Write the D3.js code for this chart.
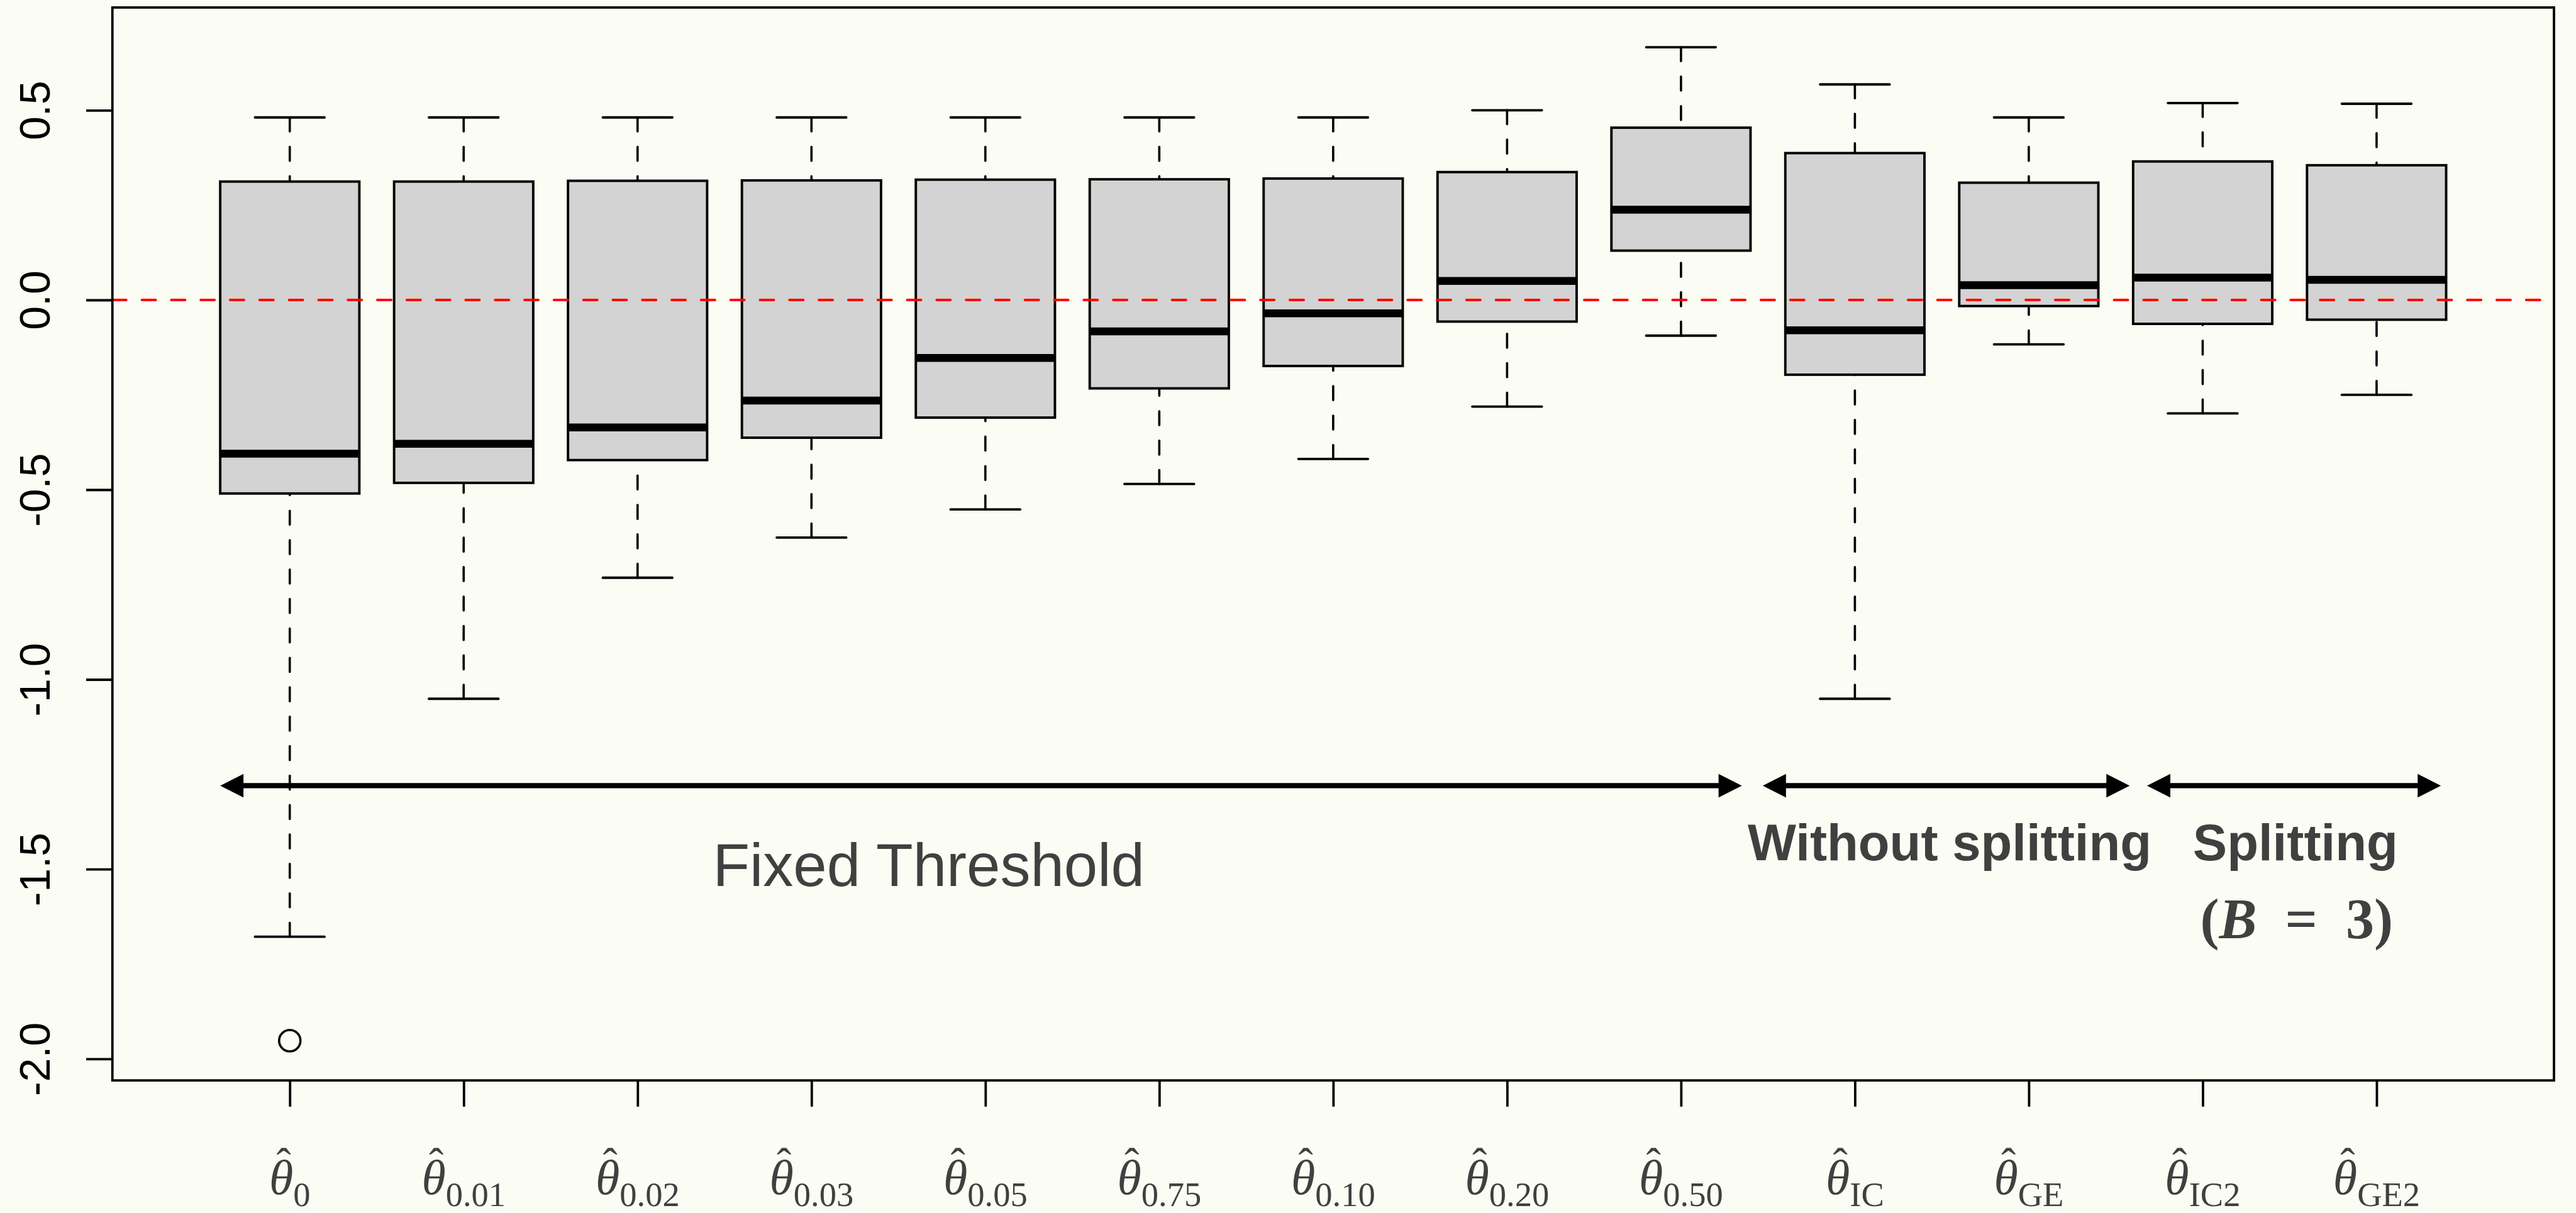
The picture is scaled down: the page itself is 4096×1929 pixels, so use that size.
<!DOCTYPE html>
<html>
<head>
<meta charset="utf-8">
<script src="https://cdn.jsdelivr.net/npm/d3@7"></script>
<style>
  html, body { margin: 0; padding: 0; background: #FBFCF3; }
  svg { display: block; }
</style>
</head>
<body>
<svg id="chart" width="4096" height="1929"></svg>
<script>
// ---------------- data ----------------
const categories   = ["0", "0.01", "0.02", "0.03", "0.05", "0.75", "0.10", "0.20", "0.50", "IC", "GE", "IC2", "GE2"];
const upperWhisker = [0.481, 0.481, 0.481, 0.481, 0.481, 0.481, 0.481, 0.500, 0.666, 0.568, 0.481, 0.519, 0.517];
const upperQuart   = [0.312, 0.312, 0.314, 0.315, 0.317, 0.318, 0.320, 0.337, 0.454, 0.387, 0.309, 0.365, 0.355];
const medians      = [-0.405, -0.379, -0.336, -0.265, -0.153, -0.083, -0.035, 0.050, 0.238, -0.080, 0.039, 0.059, 0.053];
const lowerQuart   = [-0.510, -0.482, -0.422, -0.363, -0.310, -0.233, -0.174, -0.057, 0.130, -0.197, -0.016, -0.063, -0.052];
const lowerWhisker = [-1.678, -1.051, -0.732, -0.626, -0.552, -0.485, -0.419, -0.281, -0.094, -1.051, -0.117, -0.299, -0.250];
const outlierGroup = [1];
const outlierValue = [-1.952];
const yTickValues  = [-2.0, -1.5, -1.0, -0.5, 0.0, 0.5];
const yTickLabels  = ["-2.0", "-1.5", "-1.0", "-0.5", "0.0", "0.5"];
const refLineValue = 0;
const arrowFrom    = [0.6, 9.47, 11.68];
const arrowTo      = [9.35, 11.58, 13.37];
const arrowLevel   = -1.28;
const groupLabelText = ["Fixed Threshold", "Without splitting", "Splitting"];
const groupLabelX    = [4.674, 10.545, 12.533];
const groupLabelY    = [-1.545, -1.477, -1.477];
const noteX = 12.54, noteY = -1.682;

// ---------------- layout ----------------
const S = 0.851;
const plotLeft = 210 * S, plotRight = 4772 * S, plotTop = 14 * S, plotBottom = 2019 * S;
const svg = d3.select("#chart");
svg.append("rect").attr("width", 4096).attr("height", 1929).attr("fill", "#FBFCF3");

const n = categories.length;
const xr = [0.5, n + 0.5];
const xpad = (xr[1] - xr[0]) * 0.04;
const x = d3.scaleLinear().domain([xr[0] - xpad, xr[1] + xpad]).range([plotLeft, plotRight]);

const allV = upperWhisker.concat(lowerWhisker, outlierValue);
const ymin = d3.min(allV), ymax = d3.max(allV);
const ypad = (ymax - ymin) * 0.04;
const y = d3.scaleLinear().domain([ymin - ypad, ymax + ypad]).range([plotBottom, plotTop]);

const g = svg.append("g");
const idx = d3.range(n);
const dash = `${26 * S} ${29 * S}`;

// whiskers (drawn from staple towards box)
g.selectAll(".wu").data(idx).join("line")
  .attr("x1", i => x(i + 1)).attr("x2", i => x(i + 1))
  .attr("y1", i => y(upperWhisker[i])).attr("y2", i => y(upperQuart[i]))
  .attr("stroke", "#000").attr("stroke-width", 3.6).attr("stroke-dasharray", dash).attr("stroke-linecap", "round");
g.selectAll(".wl").data(idx).join("line")
  .attr("x1", i => x(i + 1)).attr("x2", i => x(i + 1))
  .attr("y1", i => y(lowerWhisker[i])).attr("y2", i => y(lowerQuart[i]))
  .attr("stroke", "#000").attr("stroke-width", 3.6).attr("stroke-dasharray", dash).attr("stroke-linecap", "round");
// staples
[upperWhisker, lowerWhisker].forEach(arr => {
  g.selectAll(null).data(idx).join("line")
    .attr("x1", i => x(i + 1 - 0.2)).attr("x2", i => x(i + 1 + 0.2))
    .attr("y1", i => y(arr[i])).attr("y2", i => y(arr[i]))
    .attr("stroke", "#000").attr("stroke-width", 3.8).attr("stroke-linecap", "round");
});
// boxes
g.selectAll(".box").data(idx).join("rect")
  .attr("x", i => x(i + 1 - 0.4)).attr("width", i => x(i + 1 + 0.4) - x(i + 1 - 0.4))
  .attr("y", i => y(upperQuart[i])).attr("height", i => y(lowerQuart[i]) - y(upperQuart[i]))
  .attr("fill", "#D3D3D3").attr("stroke", "#000").attr("stroke-width", 3.9);
// medians
g.selectAll(".med").data(idx).join("line")
  .attr("x1", i => x(i + 1 - 0.4)).attr("x2", i => x(i + 1 + 0.4))
  .attr("y1", i => y(medians[i])).attr("y2", i => y(medians[i]))
  .attr("stroke", "#000").attr("stroke-width", 12.5);
// outliers
g.selectAll(".out").data(outlierValue).join("circle")
  .attr("cx", (d, k) => x(outlierGroup[k])).attr("cy", d => y(d)).attr("r", 17)
  .attr("fill", "none").attr("stroke", "#000").attr("stroke-width", 3.6);

// reference line
g.append("line")
  .attr("x1", plotLeft).attr("x2", plotRight)
  .attr("y1", y(refLineValue)).attr("y2", y(refLineValue))
  .attr("stroke", "#FF0000").attr("stroke-width", 3.8).attr("stroke-dasharray", dash).attr("stroke-linecap", "round");

// arrows
const headL = 37, headW = 18.7, arrowW = 8.3;
arrowFrom.forEach((a, k) => {
  const x0 = x(a), x1 = x(arrowTo[k]), yy = y(arrowLevel);
  g.append("line").attr("x1", x0 + headL - 2).attr("x2", x1 - headL + 2).attr("y1", yy).attr("y2", yy)
    .attr("stroke", "#000").attr("stroke-width", arrowW);
  g.append("path").attr("d", `M${x0},${yy}L${x0 + headL},${yy - headW}L${x0 + headL},${yy + headW}Z`).attr("fill", "#000");
  g.append("path").attr("d", `M${x1},${yy}L${x1 - headL},${yy - headW}L${x1 - headL},${yy + headW}Z`).attr("fill", "#000");
});

// group labels
groupLabelText.forEach((t, k) => {
  g.append("text").attr("x", x(groupLabelX[k])).attr("y", y(groupLabelY[k]))
    .attr("text-anchor", "middle")
    .attr("font-family", "'Liberation Sans', Arial, sans-serif")
    .attr("font-weight", k === 0 ? "normal" : "bold")
    .attr("font-size", k === 0 ? 96 : 81.5)
    .attr("fill", "#404040").text(t);
});
const note = g.append("text").attr("x", x(noteX)).attr("y", y(noteY))
  .attr("text-anchor", "middle").attr("font-family", "'Liberation Serif', 'Times New Roman', serif")
  .attr("font-weight", "bold").attr("font-size", 90).attr("fill", "#404040")
  .attr("xml:space", "preserve");
note.append("tspan").text("(");
note.append("tspan").attr("font-style", "italic").text("B");
note.append("tspan").text("  =  3)");

// axes
const yAxis = d3.axisLeft(y).tickValues(yTickValues).tickSize(41.7).tickFormat((d, i) => yTickLabels[i]);
const ya = svg.append("g").attr("transform", `translate(${plotLeft},0)`).call(yAxis);
ya.select(".domain").remove();
ya.selectAll(".tick line").attr("stroke", "#000").attr("stroke-width", 3.8);
ya.selectAll(".tick text")
  .attr("x", null).attr("dy", null).attr("y", null)
  .attr("transform", `translate(${-(210 - 93) * S},0) rotate(-90)`)
  .attr("text-anchor", "middle")
  .attr("font-family", "'Liberation Sans', Arial, sans-serif").attr("font-size", 68).attr("fill", "#000");

const xAxis = d3.axisBottom(x).tickValues(d3.range(1, n + 1)).tickSize(41.7).tickFormat("");
const xa = svg.append("g").attr("transform", `translate(0,${plotBottom})`).call(xAxis);
xa.select(".domain").remove();
xa.selectAll(".tick line").attr("stroke", "#000").attr("stroke-width", 3.8);

// x tick labels: theta-hat with subscripts (hat is a tspan of the same text)
const labelBase = 2231 * S;
categories.forEach((c, i) => {
  const t = svg.append("text").attr("x", x(i + 1)).attr("y", labelBase)
    .attr("text-anchor", "middle").attr("font-family", "'Liberation Serif', 'Times New Roman', serif")
    .attr("fill", "#404040");
  t.append("tspan").attr("font-style", "italic").attr("font-size", 78).text("θ");
  t.append("tspan").attr("font-size", 54.5).attr("dy", 19.6).text(c);
  const ext = t.node().getExtentOfChar(0);
  const cx = ext.x + ext.width / 2 + 4;
  t.append("tspan").attr("x", cx).attr("y", 1827 + 0.677 * 70)
    .attr("font-size", 70).text("ˆ");
});

// plot frame
svg.append("rect").attr("x", plotLeft).attr("y", plotTop)
  .attr("width", plotRight - plotLeft).attr("height", plotBottom - plotTop)
  .attr("fill", "none").attr("stroke", "#000").attr("stroke-width", 3.8);
</script>
</body>
</html>
